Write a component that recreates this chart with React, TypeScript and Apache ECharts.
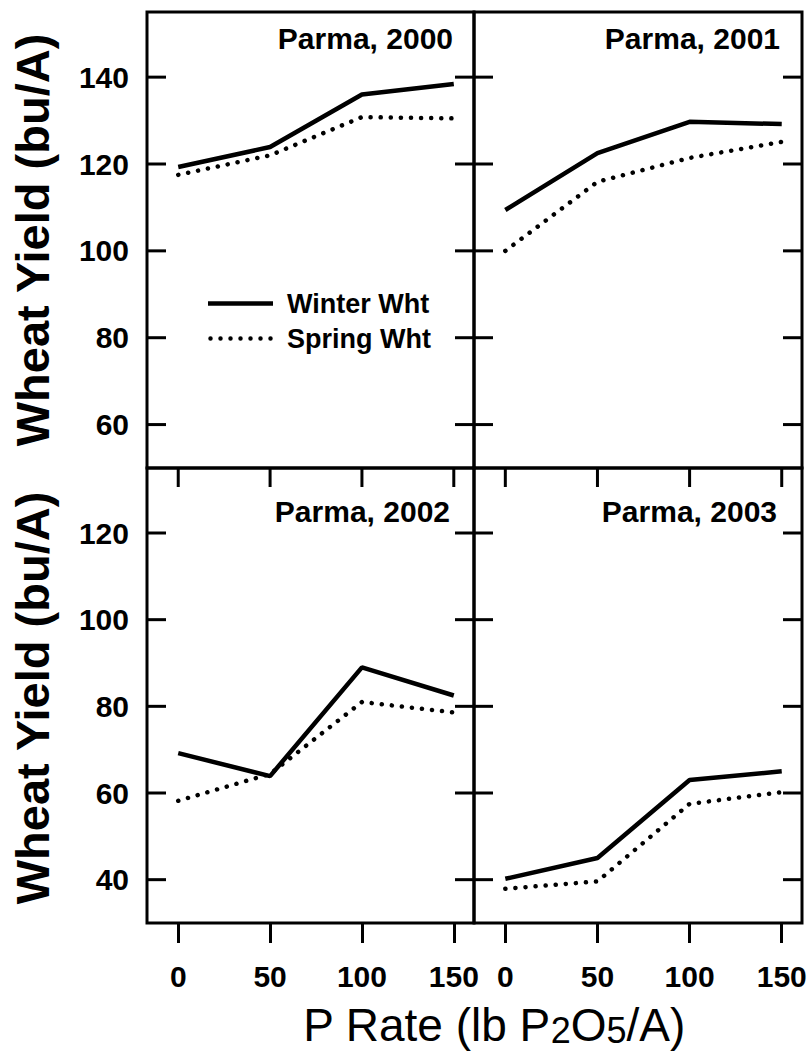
import React, { useEffect, useRef } from 'react';
import * as echarts from 'echarts';

const FONT = "'Liberation Sans', Arial, Helvetica, sans-serif";

// P rate (lb P2O5/A)
const pRates = [0, 50, 100, 150];

// Wheat yield (bu/A)
const winter2000 = [119.3, 123.9, 136.0, 138.4];
const spring2000 = [117.5, 122.0, 130.8, 130.5];
const winter2001 = [109.4, 122.5, 129.7, 129.2];
const spring2001 = [100.0, 115.9, 121.4, 125.1];
const winter2002 = [69.2, 63.9, 89.0, 82.5];
const spring2002 = [58.2, 64.4, 81.0, 78.6];
const winter2003 = [40.2, 45.0, 63.0, 65.0];
const spring2003 = [37.9, 39.6, 57.5, 60.2];

const xTicks = [0, 50, 100, 150];
const topYTicks = [60, 80, 100, 120, 140];
const bottomYTicks = [40, 60, 80, 100, 120];

const panelTitles = ['Parma, 2000', 'Parma, 2001', 'Parma, 2002', 'Parma, 2003'];
const seriesNames = ['Winter Wht', 'Spring Wht'];
const yTitle = 'Wheat Yield (bu/A)';

const X_MIN = -17;
const X_MAX = 161;
const TICK_IN = 19;
const TICK_W = 3;

const solidIcon = 'path://M0,0h65v4.5h-65z';
const dottedIcon =
  'path://' +
  [0, 10, 20, 30, 40, 50, 60]
    .map((x) => `M${x},2.25a2.25,2.25 0 1,0 4.5,0a2.25,2.25 0 1,0 -4.5,0z`)
    .join('');

export default function App() {
  const ref = useRef<HTMLDivElement>(null);

  useEffect(() => {
    const chart = echarts.init(ref.current as HTMLDivElement, null, { renderer: 'svg' });

    const panels = [
      { winter: winter2000, spring: spring2000, yMin: 50, yMax: 155, yTicks: topYTicks, topTicks: false },
      { winter: winter2001, spring: spring2001, yMin: 50, yMax: 155, yTicks: topYTicks, topTicks: false },
      { winter: winter2002, spring: spring2002, yMin: 30, yMax: 135, yTicks: bottomYTicks, topTicks: true },
      { winter: winter2003, spring: spring2003, yMin: 30, yMax: 135, yTicks: bottomYTicks, topTicks: true },
    ];

    const grids = [
      { left: 147, top: 12, width: 327, height: 456 },
      { left: 474, top: 12, width: 328, height: 456 },
      { left: 147, top: 468, width: 327, height: 455 },
      { left: 474, top: 468, width: 328, height: 455 },
    ].map((g) => ({
      ...g,
      show: true,
      borderColor: '#000',
      borderWidth: 3,
      backgroundColor: 'transparent',
    }));

    const tickStyle = () => ({ color: '#000', width: 3 });
    const labelStyle = () => ({ color: '#000', fontSize: 30, fontWeight: 'bold', fontFamily: FONT });

    const xAxes: any[] = panels.map((p, g) => {
      const isBottom = g >= 2;
      return {
        type: 'value',
        gridIndex: g,
        position: 'bottom',
        min: X_MIN,
        max: X_MAX,
        axisLine: { show: false, onZero: false },
        splitLine: { show: false },
        axisTick: isBottom
          ? { show: true, inside: false, length: 20, lineStyle: tickStyle(), customValues: xTicks }
          : { show: false },
        axisLabel: isBottom
          ? { show: true, customValues: xTicks, margin: 38, ...labelStyle() }
          : { show: false },
      };
    });

    const yAxes: any[] = panels.map((p, g) => ({
      type: 'value',
      gridIndex: g,
      position: 'left',
      min: p.yMin,
      max: p.yMax,
      axisLine: { show: false, onZero: false },
      splitLine: { show: false },
      axisTick: { show: false },
      axisLabel:
        g % 2 === 0
          ? { show: true, customValues: p.yTicks, margin: 18, ...labelStyle() }
          : { show: false },
    }));

    const series: any[] = [];
    panels.forEach((p, g) => {
      series.push({
        type: 'line',
        name: seriesNames[0],
        xAxisIndex: g,
        yAxisIndex: g,
        data: pRates.map((x, i) => [x, p.winter[i]]),
        symbol: 'none',
        lineStyle: { color: '#000', width: 4.5 },
        itemStyle: { color: '#000', borderWidth: 0 },
      });
      series.push({
        type: 'line',
        name: seriesNames[1],
        xAxisIndex: g,
        yAxisIndex: g,
        data: pRates.map((x, i) => [x, p.spring[i]]),
        symbol: 'none',
        lineStyle: { color: '#000', width: 4.5, type: [0.1, 10], cap: 'round' },
        itemStyle: { color: '#000', borderWidth: 0 },
      });
    });

    const titlePos = [
      { right: 358, top: 23 },
      { right: 31, top: 23 },
      { right: 361, top: 496 },
      { right: 34, top: 496 },
    ];

    const textGraphics: any[] = [
      {
        type: 'text',
        x: 32,
        y: 240,
        rotation: Math.PI / 2,
        style: {
          text: yTitle,
          fill: '#000',
          fontSize: 47,
          fontWeight: 'bold',
          fontFamily: FONT,
          align: 'center',
          verticalAlign: 'middle',
        },
      },
      {
        type: 'text',
        x: 32,
        y: 698,
        rotation: Math.PI / 2,
        style: {
          text: yTitle,
          fill: '#000',
          fontSize: 47,
          fontWeight: 'bold',
          fontFamily: FONT,
          align: 'center',
          verticalAlign: 'middle',
        },
      },
      {
        type: 'text',
        x: 494,
        y: 1030,
        style: {
          text: '{a|P Rate (lb P}{s|2}{a|O}{s|5}{a|/A)}',
          fill: '#000',
          align: 'center',
          verticalAlign: 'middle',
          rich: {
            a: { fontSize: 46, lineHeight: 46, verticalAlign: 'top', fontFamily: FONT, fill: '#000' },
            s: { fontSize: 36, lineHeight: 56, verticalAlign: 'middle', fontFamily: FONT, fill: '#000' },
          },
        },
      },
    ];

    chart.setOption({
      animation: false,
      backgroundColor: '#fff',
      title: panelTitles.map((t, i) => ({
        text: t,
        ...titlePos[i],
        padding: 0,
        textStyle: { color: '#000', fontSize: 30, fontWeight: 'bold', fontFamily: FONT },
      })),
      legend: {
        data: [
          { name: seriesNames[0], icon: solidIcon },
          { name: seriesNames[1], icon: dottedIcon },
        ],
        left: 208,
        top: 290,
        orient: 'vertical',
        itemWidth: 65,
        itemHeight: 4.5,
        itemGap: 8,
        padding: 0,
        selectedMode: false,
        textStyle: { color: '#000', fontSize: 27, fontWeight: 'bold', fontFamily: FONT, padding: [0, 0, 0, 9] },
      },
      grid: grids,
      xAxis: xAxes,
      yAxis: yAxes,
      series,
      graphic: textGraphics,
    });

    // Inward tick marks on the frames, positioned through the chart's own scales.
    const tickGraphics: any[] = [];
    const tickRect = (x: number, y: number, w: number, h: number) => ({
      type: 'rect',
      z: 50,
      silent: true,
      shape: { x, y, width: w, height: h },
      style: { fill: '#000' },
    });
    panels.forEach((p, g) => {
      const finder = { xAxisIndex: g, yAxisIndex: g };
      const left = (chart.convertToPixel(finder, [X_MIN, p.yMin]) as number[])[0];
      const right = (chart.convertToPixel(finder, [X_MAX, p.yMin]) as number[])[0];
      const top = (chart.convertToPixel(finder, [X_MIN, p.yMax]) as number[])[1];
      p.yTicks.forEach((v) => {
        const y = (chart.convertToPixel(finder, [X_MIN, v]) as number[])[1];
        tickGraphics.push(tickRect(left, y - TICK_W / 2, TICK_IN, TICK_W));
        tickGraphics.push(tickRect(right - TICK_IN, y - TICK_W / 2, TICK_IN, TICK_W));
      });
      if (p.topTicks) {
        xTicks.forEach((v) => {
          const x = (chart.convertToPixel(finder, [v, p.yMax]) as number[])[0];
          tickGraphics.push(tickRect(x - TICK_W / 2, top, TICK_W, TICK_IN));
        });
      }
    });

    chart.setOption({ graphic: [...textGraphics, ...tickGraphics] });

    return () => {
      chart.dispose();
    };
  }, []);

  return (
    <div
      ref={ref}
      style={{ position: 'absolute', left: 0, top: 0, width: 811, height: 1051 }}
    />
  );
}
